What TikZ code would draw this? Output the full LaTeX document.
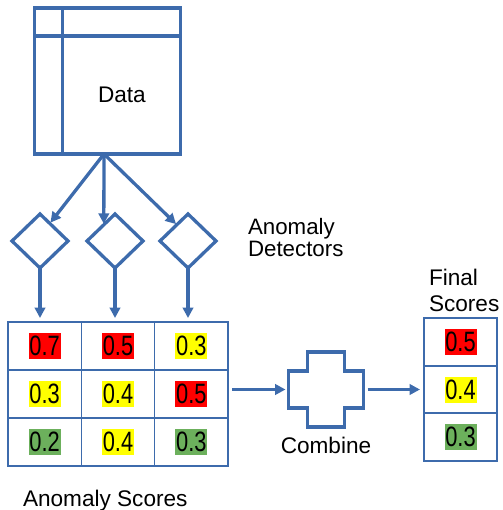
\documentclass[tikz,border=0pt]{standalone}
\usepackage{fontspec}
\setmainfont{Liberation Sans}
\newfontfamily\scorefont[FakeStretch=0.78]{Liberation Sans}
\usetikzlibrary{shapes.geometric,arrows.meta,calc}

\definecolor{flowblue}{RGB}{61,107,172}
\definecolor{hired}{RGB}{255,0,0}
\definecolor{hiyellow}{RGB}{255,255,0}
\definecolor{higreen}{RGB}{108,176,92}

% highlighted score value
\newcommand\scorebox[2]{{\setlength\fboxsep{0pt}\colorbox{#1}{\parbox[c][26pt][c]{32pt}{\centering\scorefont\fontsize{28}{28}\selectfont #2}}}}

\tikzset{
  heavy/.style={draw=flowblue, line width=3.3pt, line join=miter},
  datbox/.style={heavy, rectangle, minimum width=146pt, minimum height=146pt, inner sep=0pt, outer sep=0pt},
  detector/.style={heavy, diamond, minimum width=56pt, minimum height=54pt, inner sep=0pt, outer sep=0pt},
  cell/.style={draw=flowblue, line width=1.6pt, rectangle, minimum width=73.33pt, minimum height=48pt, inner sep=0pt, outer sep=0pt},
  fcell/.style={cell, minimum width=73pt, minimum height=47.5pt},
  flow/.style={draw=flowblue, line width=3.3pt, -{Triangle[length=10.5pt,width=10.5pt]}},
  txt/.style={inner sep=0pt, outer sep=0pt, text=black},
}

\begin{document}
\begin{tikzpicture}[x=1pt, y=-1pt, font=\fontsize{22.6}{26}\selectfont]
\useasboundingbox (0,0) rectangle (502,510);

% data table
\node[datbox] (data) at (107.75,81) {};
\draw[heavy] ($(data.north west)+(28,0)$) -- ($(data.south west)+(28,0)$);
\draw[heavy] ($(data.north west)+(0,28)$) -- ($(data.north east)+(0,28)$);
\node[txt, anchor=base west] (datatext) at (98,103) {Data};
\coordinate (fork) at (104,154);

% detectors
\node[detector] (d1) at (40,241) {};
\node[detector] (d2) at (115,241) {};
\node[detector] (d3) at (188,241) {};
\draw[flow, shorten >=1pt] (fork) -- ($(d1.north)!0.35!(d1.east)$);
\draw[flow, shorten >=1pt] (fork) -- ($(d2.west)!0.6!(d2.north)$);
\draw[flow, shorten >=1pt] (fork) -- ($(d3.west)!0.6!(d3.north)$);
\node[txt, anchor=north west, align=left, font=\fontsize{22.3}{22}\selectfont] (dettext) at (248,218) {Anomaly\\Detectors};

% score grid
\node[cell] (c11) at (44.67,346) {\scorebox{hired}{0.7}};
\node[cell] (c12) at (118,346) {\scorebox{hired}{0.5}};
\node[cell] (c13) at (191.33,346) {\scorebox{hiyellow}{0.3}};
\node[cell] (c21) at (44.67,394) {\scorebox{hiyellow}{0.3}};
\node[cell] (c22) at (118,394) {\scorebox{hiyellow}{0.4}};
\node[cell] (c23) at (191.33,394) {\scorebox{hired}{0.5}};
\node[cell] (c31) at (44.67,442) {\scorebox{higreen}{0.2}};
\node[cell] (c32) at (118,442) {\scorebox{hiyellow}{0.4}};
\node[cell] (c33) at (191.33,442) {\scorebox{higreen}{0.3}};
\node[txt, anchor=base west] (scoretext) at (23,506) {Anomaly Scores};

\draw[flow, shorten >=4pt] (d1.south) -- (d1.south |- c11.north);
\draw[flow, shorten >=4pt] (d2.south) -- (d2.south |- c12.north);
\draw[flow, shorten >=4pt] (d3.south) -- (d3.south |- c13.north);

% combine step
\node[minimum width=75pt, minimum height=75pt, inner sep=0pt, outer sep=0pt] (combine) at (326,389.5) {};
\draw[heavy] ($(combine)+(-18.5,-37.5)$) -- ++(37,0) -- ++(0,19) -- ++(19,0) -- ++(0,37) -- ++(-19,0) -- ++(0,19) -- ++(-37,0) -- ++(0,-19) -- ++(-19,0) -- ++(0,-37) -- ++(19,0) -- cycle;
\node[txt, anchor=base] (combtext) at (326,453) {Combine};

% final scores
\node[fcell] (f1) at (460.5,342) {\scorebox{hired}{0.5}};
\node[fcell] (f2) at (460.5,389.5) {\scorebox{hiyellow}{0.4}};
\node[fcell] (f3) at (460.5,437) {\scorebox{higreen}{0.3}};
\node[txt, anchor=north west, align=left, font=\fontsize{22.6}{26}\selectfont] (finaltext) at (429,269) {Final\\Scores};

\draw[flow] ($(combine.west -| c23.east)+(4,0)$) -- ($(combine.west)+(-3,0)$);
\draw[flow] ($(combine.east)+(4,0)$) -- ($(f2.west)+(-4,0)$);
\end{tikzpicture}
\end{document}
